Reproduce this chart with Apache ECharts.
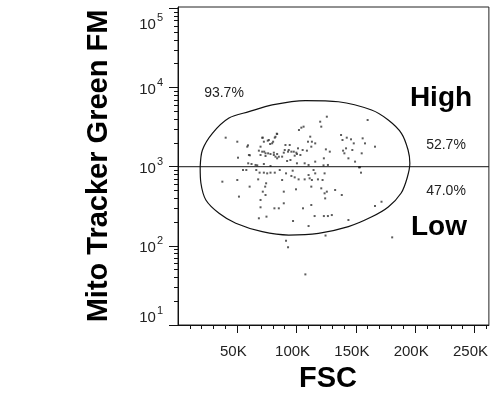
<!DOCTYPE html>
<html><head><meta charset="utf-8">
<script src="https://cdn.jsdelivr.net/npm/echarts@6/dist/echarts.min.js"></script>
<style>html,body{margin:0;padding:0;background:#fff}#c{width:491px;height:396px}</style>
</head><body><div id="c"></div>
<script>
// FSC values of the events (linear)
const fscValues = [40200,50000,50600,59000,60600,68200,71500,75700,77700,81600,83300,80200,69600,72700,73800,76000,80800,82200,83600,87800,89200,90600,90000,92800,94200,95600,94800,98400,99800,101200,102000,104000,105900,105100,106800,108700,109600,111500,112900,112400,115700,115700,119900,120800,123000,124700,125500,128000,137500,138700,139200,140300,141700,142300,143700,145900,147000,148200,149300,153500,154900,155700,157700,59200,62000,65400,66800,72400,78000,92000,100300,110100,122700,126400,
37400,50000,54800,57600,60400,66000,67600,68800,72400,74300,73500,75200,78000,81600,85800,87800,89200,91100,96700,98400,99500,95600,101700,106800,110100,111000,112900,112400,114300,115700,118000,120800,121900,123600,51400,69600,71500,73800,69600,81300,85000,89200,105400,112400,115200,123000,126400,129700,124100,123600,125500,132500,138100,143700,68200,74600,97000,110100,124400,91100,92800,154300,152600,
166100,159900,166100,171600,180600,107400,
69600,71000,73800,78000,80800,83600,85000,93400,97600,100300,103200,59800,58400,79400,76600,82200,83600,71000,72400];
// Mito Tracker Green FM values of the events (log)
const mitoValues = [2327,2070,1300,1862,1393,1595,2327,2133,1936,2327,2614,2070,1406,1549,1365,1476,1504,1340,1276,1340,1504,1879,1625,1549,1879,1549,1216,1378,1504,1706,2911,3114,3206,1625,1104,1595,2070,2396,2070,1791,1972,1159,3705,3206,1276,1656,4285,1549,2515,2175,1595,1476,1706,2327,1276,2218,1625,1972,1159,985,1476,2282,1972,1104,1082,1052,1040,1082,1021,1181,1104,1052,1040,1052,
647,679,908,908,560,908,692,841,841,617,560,824,841,841,908,679,484,824,891,734,518,764,692,692,785,713,679,560,908,824,692,533,679,824,419,380,484,439,307,298,298,345,298,328,238,238,238,245,398,461,484,508,439,212,223,234,206,178,135,116,96,841,982,
1791,3890,319,361,128,43.6,
1791,1548,1476,1446,1406,1446,1337,1626,1548,1446,1406,1406,1791,1977,2174,2393,2588,2323,2070];
// Gate polygon vertices
const gateX = [18700,19300,23500,34600,48700,71000,93400,118500,143700,163000,177300,188200,193200,195500,194000,188400,177300,163200,135300,107400,79400,59800,43000,29000,20600,18700];
const gateY = [1000,622,380,258,193,151,137,144,175,231,310,465,720,1104,1626,2642,3890,5200,6620,6850,6030,4955,4120,2642,1626,1000];
// Quadrant split line
const splitX = [0, 262144];
const splitY = 1000;
// Axes
const xMin = 0, xMax = 262144;
const xTickValues = [50000,100000,150000,200000,250000];
const xTickLabels = ['50K','100K','150K','200K','250K'];
const xMinorTicks = [10000,20000,30000,40000,60000,70000,80000,90000,110000,120000,130000,140000,160000,170000,180000,190000,210000,220000,230000,240000,260000];
const yMin = 10, yMax = 104200;
const yTickValues = [10,100,1000,10000,100000];
const yTickExponents = ['1','2','3','4','5'];
const yMinorTicks = [20,30,40,50,60,70,80,90,200,300,400,500,600,700,800,900,2000,3000,4000,5000,6000,7000,8000,9000,20000,30000,40000,50000,60000,70000,80000,90000];
// Annotations
const gateTotal = '93.7%';
const highPct = '52.7%';
const lowPct = '47.0%';
const highLabel = 'High';
const lowLabel = 'Low';
const xTitle = 'FSC';
const yTitle = 'Mito Tracker Green FM';

const FONT = '"Liberation Sans", Arial, Helvetica, sans-serif';
const chart = echarts.init(document.getElementById('c'), null, {renderer: 'canvas'});

const events = fscValues.map((x, i) => [x, mitoValues[i]]);
const gate = gateX.map((x, i) => [x, gateY[i]]);
const split = splitX.map(x => [x, splitY]);

function yLabel(v) {
  let idx = 0, best = 1e9;
  yTickValues.forEach((t, i) => { const d = Math.abs(Math.log10(v) - Math.log10(t)); if (d < best) { best = d; idx = i; } });
  if (idx === yTickValues.length - 1) return '{bt|10}{st|' + yTickExponents[idx] + '}';
  return '{b|10}{s|' + yTickExponents[idx] + '}';
}

chart.setOption({
  animation: false,
  backgroundColor: '#fff',
  grid: {left: 178, right: 1, top: 7, bottom: 71, show: true, borderColor: '#222', borderWidth: 1, backgroundColor: 'transparent'},
  xAxis: [{
    type: 'value', min: xMin, max: xMax, position: 'bottom',
    axisLine: {show: true, lineStyle: {color: '#111', width: 1}},
    axisTick: {show: true, customValues: xTickValues, length: 8, lineStyle: {color: '#111'}},
    axisLabel: {show: true, customValues: xTickValues, margin: 19, fontSize: 15, color: '#222', fontFamily: FONT, padding: [0, 8, 0, 0],
      formatter: v => xTickLabels[xTickValues.indexOf(v)] || ''},
    splitLine: {show: false}
  }, {
    type: 'value', min: xMin, max: xMax, position: 'bottom',
    axisLine: {show: false},
    axisTick: {show: true, customValues: xMinorTicks, length: 4, lineStyle: {color: '#111'}},
    axisLabel: {show: false},
    splitLine: {show: false}
  }],
  yAxis: [{
    type: 'log', logBase: 10, min: yMin, max: yMax, position: 'left',
    axisLine: {show: true, lineStyle: {color: '#111', width: 1}},
    axisTick: {show: true, customValues: yTickValues, length: 9, lineStyle: {color: '#111'}},
    axisLabel: {show: true, customValues: yTickValues, margin: 15, color: '#222', fontFamily: FONT,
      verticalAlignMinLabel: 'bottom', verticalAlignMaxLabel: 'top',
      formatter: yLabel,
      rich: {
        b: {fontSize: 15, color: '#222', fontFamily: FONT, verticalAlign: 'bottom'},
        s: {fontSize: 11, color: '#222', fontFamily: FONT, verticalAlign: 'bottom', padding: [0, 0, 9, 1]},
        bt: {fontSize: 15, color: '#222', fontFamily: FONT, verticalAlign: 'bottom', padding: [9, 0, 0, 0]},
        st: {fontSize: 11, color: '#222', fontFamily: FONT, verticalAlign: 'bottom', padding: [0, 0, 9, 1]}
      }},
    splitLine: {show: false}
  }, {
    type: 'log', logBase: 10, min: yMin, max: yMax, position: 'left',
    axisLine: {show: false},
    axisTick: {show: true, customValues: yMinorTicks, length: 4, lineStyle: {color: '#111'}},
    axisLabel: {show: false},
    splitLine: {show: false}
  }],
  series: [{
    type: 'scatter', xAxisIndex: 0, yAxisIndex: 0, data: events,
    symbol: 'rect', symbolSize: 2, itemStyle: {color: '#333'}, silent: true
  }, {
    type: 'line', xAxisIndex: 0, yAxisIndex: 0, data: gate, smooth: 0.3,
    symbol: 'none', lineStyle: {color: '#111', width: 1.2}, silent: true
  }, {
    type: 'line', xAxisIndex: 0, yAxisIndex: 0, data: split,
    symbol: 'none', lineStyle: {color: '#111', width: 1}, silent: true
  }],
  graphic: [
    {type: 'text', x: 224, y: 93, style: {text: gateTotal, font: '14px ' + FONT, fill: '#222', align: 'center', verticalAlign: 'middle'}},
    {type: 'text', x: 446, y: 145, style: {text: highPct, font: '14px ' + FONT, fill: '#222', align: 'center', verticalAlign: 'middle'}},
    {type: 'text', x: 446, y: 191, style: {text: lowPct, font: '14px ' + FONT, fill: '#222', align: 'center', verticalAlign: 'middle'}},
    {type: 'text', x: 441, y: 98, style: {text: highLabel, font: 'bold 28px ' + FONT, fill: '#000', align: 'center', verticalAlign: 'middle'}},
    {type: 'text', x: 439, y: 227, style: {text: lowLabel, font: 'bold 28px ' + FONT, fill: '#000', align: 'center', verticalAlign: 'middle'}},
    {type: 'text', x: 328, y: 379, style: {text: xTitle, font: 'bold 29px ' + FONT, fill: '#000', align: 'center', verticalAlign: 'middle'}},
    {type: 'text', x: 99, y: 166, rotation: Math.PI / 2, style: {text: yTitle, font: 'bold 29px ' + FONT, fill: '#000', align: 'center', verticalAlign: 'middle'}}
  ]
});
</script>
</body></html>
